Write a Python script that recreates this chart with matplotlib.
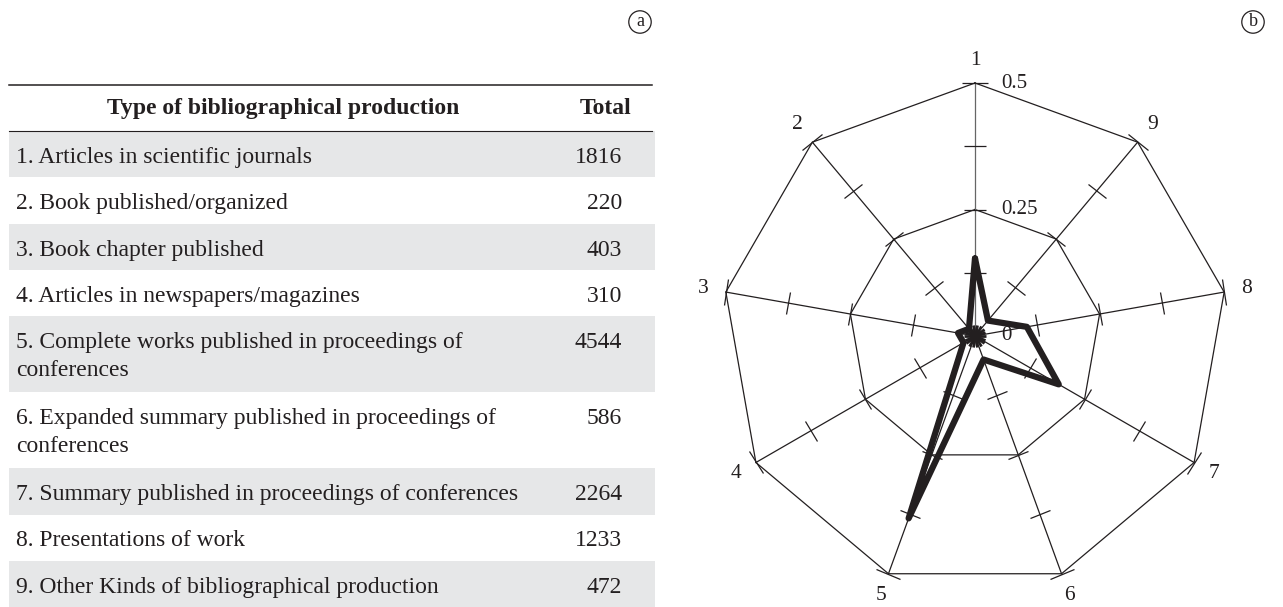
import numpy as np
import matplotlib
matplotlib.use("Agg")
import matplotlib.pyplot as plt
from matplotlib.patches import Rectangle
from matplotlib.markers import MarkerStyle
from matplotlib.transforms import Affine2D

plt.rcParams['font.family'] = ['Liberation Serif', 'DejaVu Serif']

# table data (panel a)
row_labels = [
    "1. Articles in scientific journals",
    "2. Book published/organized",
    "3. Book chapter published",
    "4. Articles in newspapers/magazines",
    "5. Complete works published in proceedings of\nconferences",
    "6. Expanded summary published in proceedings of\nconferences",
    "7. Summary published in proceedings of conferences",
    "8. Presentations of work",
    "9. Other Kinds of bibliographical production",
]
totals = [1816, 220, 403, 310, 4544, 586, 2264, 1233, 472]

# radar (panel b)
axis_labels = ["1", "2", "3", "4", "5", "6", "7", "8", "9"]
ring_levels = [0.25, 0.5]
tick_levels = [0, 0.125, 0.25, 0.375, 0.5]
level_labels = ["0", "0.25", "0.5"]
level_values = [0, 0.25, 0.5]

shares = np.array(totals) / sum(totals)

ink = '#231f20'
W, H = 1283, 607
fig = plt.figure(figsize=(W / 100, H / 100), dpi=100)

# ---- table ----
axt = fig.add_axes([0, 0, 660 / W, 1])
axt.set_xlim(0, 660)
axt.set_ylim(H, 0)
axt.axis('off')

fs = 17
axt.plot([9, 652], [85, 85], color=ink, lw=1.1)
axt.text(283, 114, "Type of bibliographical production", ha='center', va='baseline',
         fontsize=fs, fontweight='bold', color=ink)
axt.text(606, 114, "Total", ha='center', va='baseline', fontsize=fs,
         fontweight='bold', color=ink)
axt.plot([9, 652], [131, 131], color=ink, lw=0.8)

y = 131
for i, (lab, tot) in enumerate(zip(row_labels, totals)):
    lines = lab.split('\n')
    h = 46.3 if len(lines) == 1 else 76
    if i % 2 == 0:
        axt.add_patch(Rectangle((9, y), 646, h, facecolor='#e6e7e8', edgecolor='none'))
    for j, line in enumerate(lines):
        axt.text(16, y + 32 + 28 * j, line, ha='left', va='baseline', fontsize=fs, color=ink)
    axt.text(622, y + 32, str(tot), ha='right', va='baseline', fontsize=fs, color=ink)
    y += h

# ---- radar ----
R = 253
cx, cy = 975, 336
axr = fig.add_axes([(cx - R) / W, (H - cy - R) / H, 2 * R / W, 2 * R / H], projection='polar')
axr.set_theta_offset(np.pi / 2)
axr.set_ylim(0, 0.5)
axr.set_axis_off()

n = len(totals)
theta = np.arange(n) * 2 * np.pi / n
closed = np.append(theta, theta[0])

for lev in ring_levels:
    axr.plot(closed, [lev] * (n + 1), color=ink, lw=0.9, clip_on=False)

for k, t in enumerate(theta):
    axr.plot([t, t], [0, 0.5], color='#666666' if k == 0 else ink, lw=0.9, clip_on=False)
    m = MarkerStyle('|', transform=Affine2D().rotate_deg(np.degrees(t) + 90))
    for lev in tick_levels:
        axr.plot([t], [lev], marker=m, color=ink, ms=19 if lev == 0.5 else 16,
                 mew=2 if lev == 0 else 0.9, clip_on=False)
    axr.text(t, 0.545, axis_labels[k], ha='center', va='center', fontsize=15.5, color=ink)

axr.plot(closed, np.append(shares, shares[0]), color=ink, lw=4.5,
         solid_joinstyle='round', solid_capstyle='round', clip_on=False, zorder=5)

for txt, lev in zip(level_labels, level_values):
    axr.annotate(txt, xy=(0, lev), xytext=(19, 0), textcoords='offset points',
                 ha='left', va='center', fontsize=15, color=ink)

# panel markers
for txt, xp in [("a", 640), ("b", 1253)]:
    fig.text(xp / W, 1 - 22 / H, txt, ha='center', va='center', fontsize=13, color=ink,
             bbox=dict(boxstyle='circle,pad=0.15', fc='white', ec=ink, lw=0.9))

fig.savefig("out.png", dpi=100)
